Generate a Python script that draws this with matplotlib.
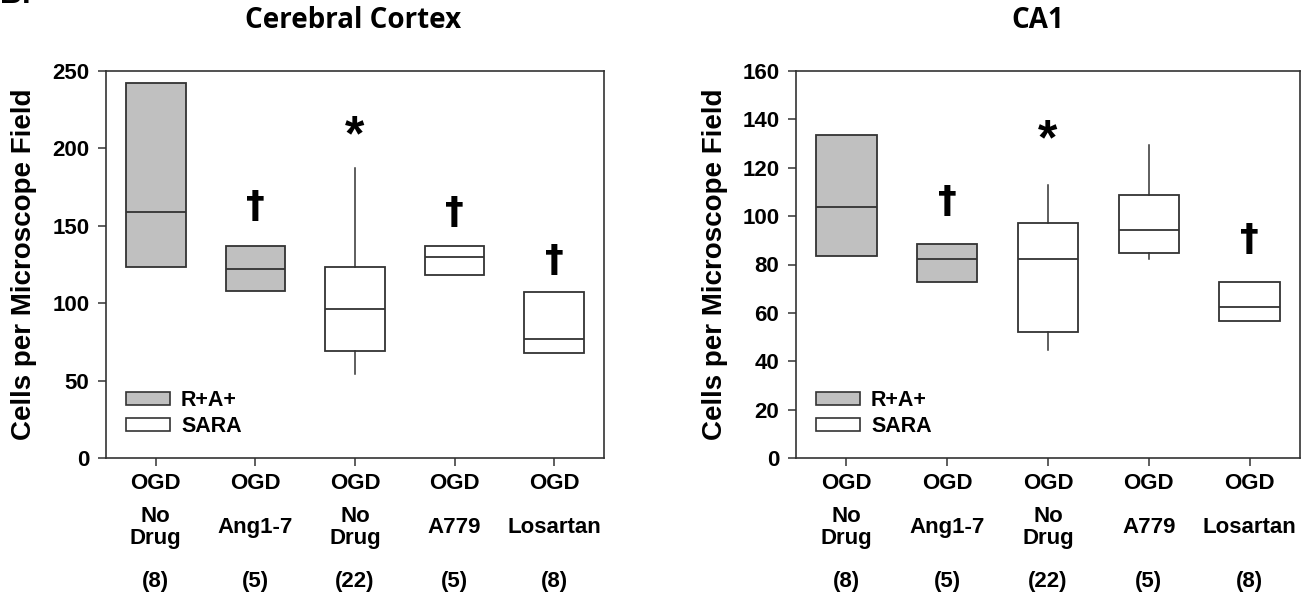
import matplotlib
matplotlib.use("Agg")
import matplotlib.pyplot as plt
from matplotlib.patches import Patch

# groups along the x axis
groups_top = ["OGD", "OGD", "OGD", "OGD", "OGD"]
groups_mid = ["No\nDrug", "Ang1-7", "No\nDrug", "A779", "Losartan"]
groups_n = ["(8)", "(5)", "(22)", "(5)", "(8)"]
fill_group = ["R+A+", "R+A+", "SARA", "SARA", "SARA"]

# Cerebral cortex box stats
cortex_lo = [123.4, 108.1, 54.3, 118.0, 67.6]
cortex_q1 = [123.4, 108.1, 69.3, 118.0, 67.6]
cortex_med = [158.9, 121.9, 96.0, 129.8, 77.1]
cortex_q3 = [242.4, 137.0, 123.4, 137.0, 107.0]
cortex_hi = [242.4, 137.0, 187.1, 137.0, 107.0]
cortex_marks = ["", "\u2020", "*", "\u2020", "\u2020"]
cortex_mark_y = [0, 162, 207, 158, 127]

# CA1 box stats
ca1_lo = [83.4, 72.6, 44.5, 82.1, 56.8]
ca1_q1 = [83.4, 72.6, 52.2, 84.9, 56.8]
ca1_med = [103.8, 82.1, 82.1, 94.1, 62.4]
ca1_q3 = [133.5, 88.6, 97.0, 108.8, 72.9]
ca1_hi = [133.5, 88.6, 112.8, 129.2, 72.9]
ca1_marks = ["", "\u2020", "*", "", "\u2020"]
ca1_mark_y = [0, 106, 131, 0, 90]

colors = {"R+A+": "#c0c0c0", "SARA": "#ffffff"}
EDGE = "#333333"
TXT = dict(family=["Liberation Sans", "DejaVu Sans"], fontweight="bold")


def draw_panel(ax, lo, q1, med, q3, hi, marks, mark_y, ymax, ystep, title, tx, ylab_x):
    stats = []
    for i in range(len(med)):
        stats.append(dict(whislo=lo[i], q1=q1[i], med=med[i], q3=q3[i], whishi=hi[i], fliers=[]))
    bp = ax.bxp(stats, positions=range(len(med)), widths=0.6, showcaps=False,
                patch_artist=True, showfliers=False,
                boxprops=dict(edgecolor=EDGE, linewidth=1.3),
                medianprops=dict(color=EDGE, linewidth=1.3),
                whiskerprops=dict(color=EDGE, linewidth=1.1))
    for patch, g in zip(bp["boxes"], fill_group):
        patch.set_facecolor(colors[g])

    for i, (m, y) in enumerate(zip(marks, mark_y)):
        if m == "*":
            ax.text(i, y, m, ha="center", va="center", fontsize=36, **TXT)
        elif m:
            ax.text(i, y, m, ha="center", va="center", fontsize=27,
                    family="DejaVu Sans", fontweight="bold")

    ax.set_xlim(-0.5, len(med) - 0.5)
    ax.set_ylim(0, ymax)
    ax.set_yticks(range(0, ymax + 1, ystep))
    ax.set_xticks(range(len(med)))
    ax.set_xticklabels([""] * len(med))
    for lab in ax.get_yticklabels():
        lab.set_fontsize(16)
        lab.set_fontweight("bold")
        lab.set_family(["Liberation Sans", "DejaVu Sans"])
    ax.tick_params(direction="out", length=6, width=1.1, color=EDGE, pad=6)
    for sp in ax.spines.values():
        sp.set_color(EDGE)
        sp.set_linewidth(1.2)

    trans = ax.get_xaxis_transform()
    for i in range(len(med)):
        ax.text(i, -0.065, groups_top[i], transform=trans, ha="center", va="center", fontsize=16, **TXT)
        ax.text(i, -0.18, groups_mid[i], transform=trans, ha="center", va="center",
                fontsize=16, linespacing=1.1, **TXT)
        ax.text(i, -0.32, groups_n[i], transform=trans, ha="center", va="center", fontsize=16, **TXT)

    ax.set_ylabel("Cells per Microscope Field", fontsize=20, **TXT)
    ax.yaxis.set_label_coords(ylab_x, 0.5)

    handles = [Patch(facecolor=colors["R+A+"], edgecolor=EDGE, linewidth=1.2, label="R+A+"),
               Patch(facecolor=colors["SARA"], edgecolor=EDGE, linewidth=1.2, label="SARA")]
    ax.legend(handles=handles, loc="lower left", bbox_to_anchor=(0.023, 0.031), frameon=False,
              handlelength=2.05, handleheight=0.56, handletextpad=0.5, labelspacing=0.23,
              prop=dict(family="Liberation Sans", weight="bold", size=15.5), borderaxespad=0)

    fig.text(tx, 1 - 20 / 598, title, ha="center", va="center", fontsize=20,
             family=["Open Sans", "DejaVu Sans"], fontweight="bold")


fig = plt.figure(figsize=(13.08, 5.98), dpi=100)
ax1 = fig.add_axes([106 / 1308, 140 / 598, 498 / 1308, 387 / 598])
ax2 = fig.add_axes([796 / 1308, 140 / 598, 504 / 1308, 387 / 598])

draw_panel(ax1, cortex_lo, cortex_q1, cortex_med, cortex_q3, cortex_hi,
           cortex_marks, cortex_mark_y, 250, 50, "Cerebral Cortex", 353 / 1308, -0.139)
draw_panel(ax2, ca1_lo, ca1_q1, ca1_med, ca1_q3, ca1_hi,
           ca1_marks, ca1_mark_y, 160, 20, "CA1", 1038 / 1308, -0.135)

# panel letter, cut off at the top edge as in the source figure
fig.text(0.0, 1 - 3 / 598, "B.", ha="left", va="baseline", fontsize=22, **TXT)

fig.savefig("out.png", dpi=100, facecolor="white")
